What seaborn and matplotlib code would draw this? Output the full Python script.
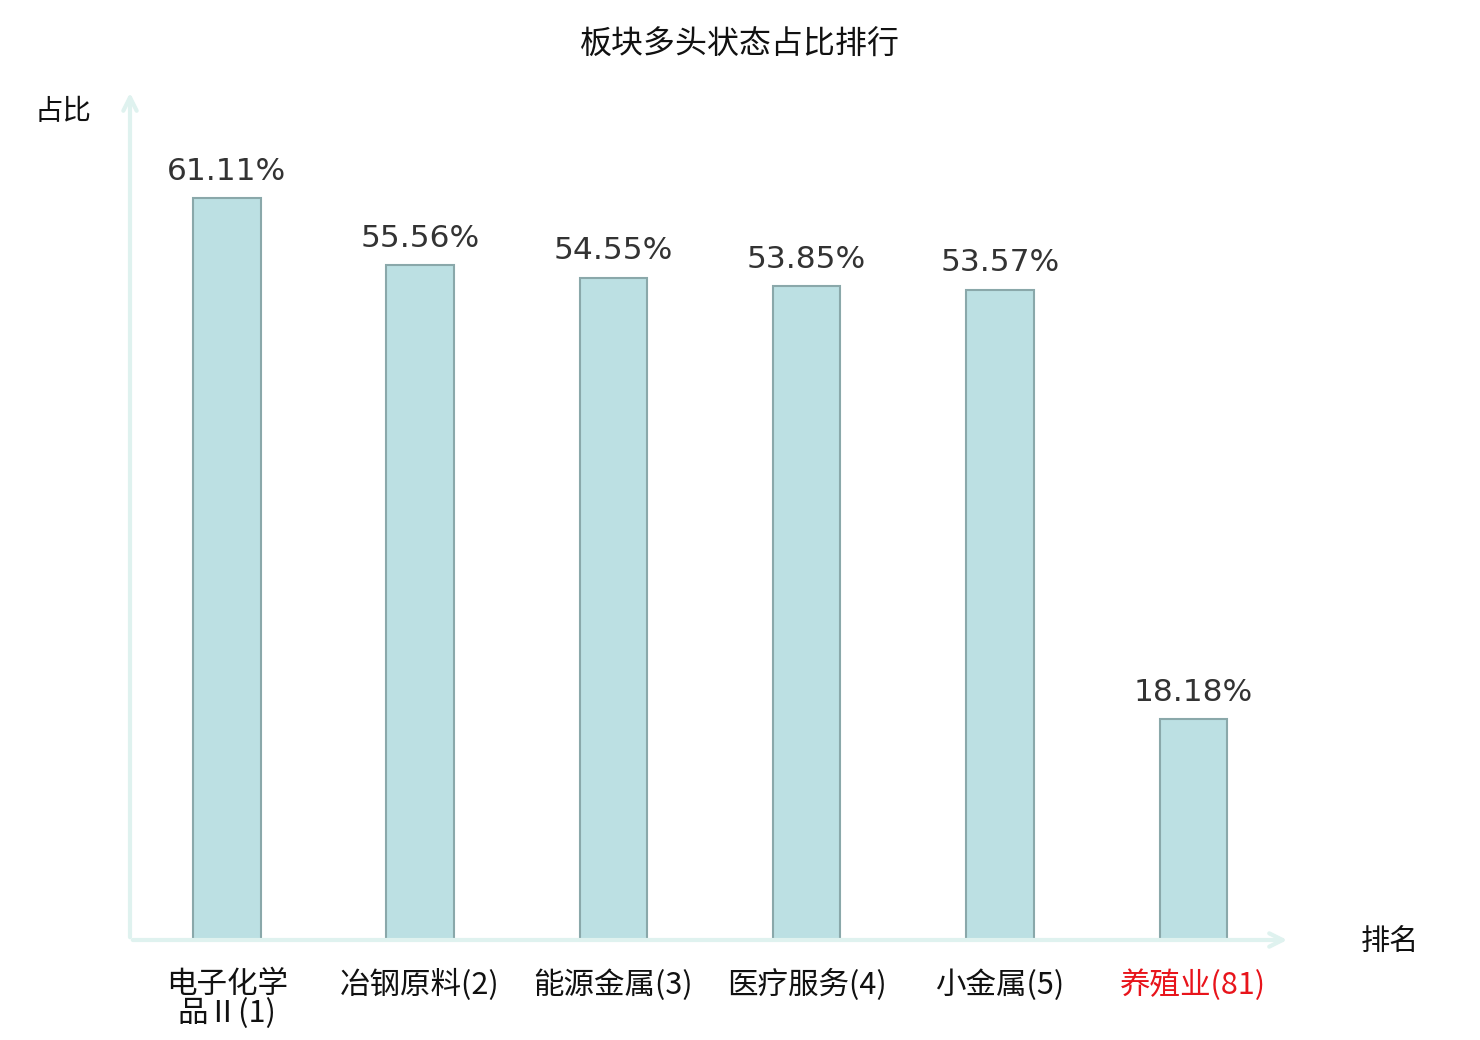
import matplotlib
matplotlib.use('Agg')
import matplotlib.pyplot as plt
import seaborn as sns
import pandas as pd

# --------------------- Data ---------------------
categories = ['电子化学\n品Ⅱ(1)', '冶钢原料(2)', '能源金属(3)', '医疗服务(4)', '小金属(5)', '养殖业(81)']
ratios = [61.11, 55.56, 54.55, 53.85, 53.57, 18.18]
label_colors = ['#111111'] * 5 + ['#e8141b']

df = pd.DataFrame({'板块': categories, '占比': ratios})

sns.set_theme(style='white')
plt.rcParams['font.family'] = ['Noto Sans CJK SC', 'DejaVu Sans']

fig = plt.figure(figsize=(14.8, 10.4), dpi=100)
ax = fig.add_axes([130 / 1480, 100 / 1040, 1160 / 1480, 850 / 1040])

sns.barplot(data=df, x='板块', y='占比', color='#bce0e3', width=0.35,
            edgecolor='#8aa8aa', linewidth=1.5, saturation=1, ax=ax)

ax.set_xlim(-0.5, 5.5)
ax.set_ylim(0, 70)
for s in ax.spines.values():
    s.set_visible(False)
ax.set_yticks([])
ax.set_xlabel('')
ax.set_ylabel('')
ax.tick_params(axis='x', length=0, pad=21)
ax.set_xticks(range(len(categories)))
ax.set_xticklabels(categories, fontsize=22, linespacing=0.92)
for lbl, c in zip(ax.get_xticklabels(), label_colors):
    lbl.set_color(c)

# value labels
for i, v in enumerate(ratios):
    ax.text(i, v + 1.0, f'{v:.2f}%', ha='center', va='bottom', fontsize=22.5,
            color='#333333', family='DejaVu Sans')

# axis arrows
axis_col = '#dff2ef'
ax.annotate('', xy=(0, 1.0), xytext=(0, 0), xycoords='axes fraction',
            arrowprops=dict(arrowstyle='->,head_length=0.8,head_width=0.4', color=axis_col, lw=3),
            annotation_clip=False)
ax.annotate('', xy=(1.0, 0), xytext=(0, 0), xycoords='axes fraction',
            arrowprops=dict(arrowstyle='->,head_length=0.8,head_width=0.4', color=axis_col, lw=3),
            annotation_clip=False)

fig.text(740 / 1480, 1 - 45 / 1040, '板块多头状态占比排行', ha='center', va='center', fontsize=23, color='#111111')
fig.text(63 / 1480, 1 - 112 / 1040, '占比', ha='center', va='center', fontsize=20.5, color='#111111')
fig.text(1390 / 1480, 1 - 942 / 1040, '排名', ha='center', va='center', fontsize=21, color='#111111')

fig.savefig('out.png', dpi=100, facecolor='white')
